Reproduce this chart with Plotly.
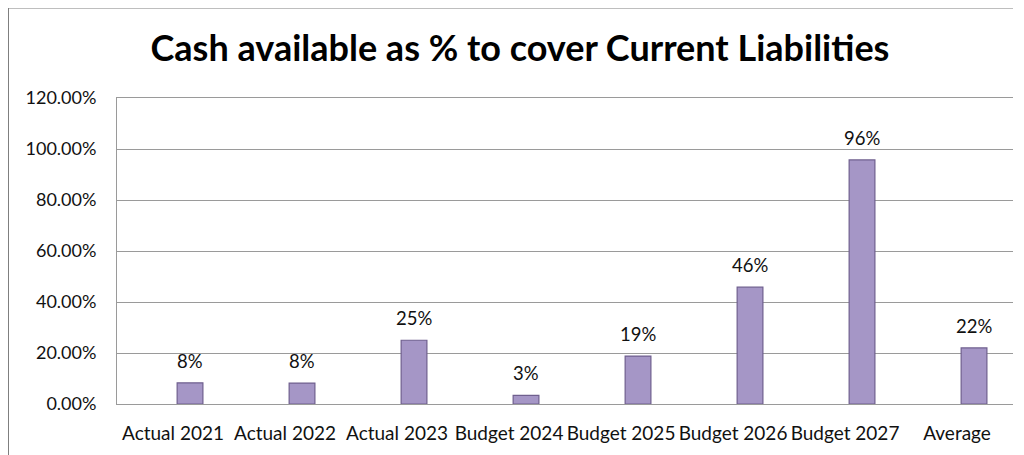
import plotly.graph_objects as go

categories = ["Actual 2021", "Actual 2022", "Actual 2023", "Budget 2024",
              "Budget 2025", "Budget 2026", "Budget 2027", "Average"]
values = [0.083, 0.082, 0.25, 0.034, 0.188, 0.458, 0.957, 0.22]
labels = ["8%", "8%", "25%", "3%", "19%", "46%", "96%", "22%"]
y_ticks = [0, 0.2, 0.4, 0.6, 0.8, 1.0, 1.2]

OFF = 8  # page body margin
W, H = 1024 - OFF, 455 - OFF
L, R, T, B = 117 - OFF, 1013 - OFF, 98 - OFF, 406 - OFF
FONT = "Lato"

fig = go.Figure()
fig.add_trace(go.Bar(
    x=categories, y=values,
    marker=dict(color="#a596c6", line=dict(color="#6f5f8e", width=1.2)),
    hoverinfo="skip",
))

for c, v, t in zip(categories, values, labels):
    fig.add_annotation(x=c, y=v, text=t, showarrow=False, yanchor="bottom",
                       yshift=9, font=dict(family=FONT, size=18.5, color="#111"))

def px_x(p):
    return (p - OFF - L) / (R - L)

def px_y(p):
    return (B - (p - OFF)) / (B - T)

shapes = [
    dict(type="line", xref="paper", yref="paper", x0=px_x(8), x1=px_x(1013),
         y0=px_y(7), y1=px_y(7), line=dict(color="#7f7f7f", width=2)),
    dict(type="line", xref="paper", yref="paper", x0=px_x(8), x1=px_x(8),
         y0=px_y(7), y1=px_y(470), line=dict(color="#7f7f7f", width=2)),
]

fig.update_layout(
    width=W, height=H,
    margin=dict(l=L, r=W - R, t=T, b=H - B),
    paper_bgcolor="white", plot_bgcolor="white",
    bargap=0.77,
    showlegend=False,
    shapes=shapes,
    title=dict(text="<b>Cash available as % to cover Current Liabilities</b>",
               x=(520 - OFF) / W, xanchor="center", xref="container",
               y=1 - (48 - OFF) / H, yanchor="middle",
               font=dict(family=FONT, size=36, color="#000")),
    xaxis=dict(type="category", range=[-0.652, 7.348], showgrid=False,
               showline=True, mirror=True, linecolor="#9a9a9a", linewidth=1,
               ticks="", ticklabelshift=-17, ticklabelstandoff=12,
               tickfont=dict(family=FONT, size=19, color="#111")),
    yaxis=dict(range=[0, 1.2], tickvals=y_ticks, tickformat=".2%",
               showgrid=True, gridcolor="#9a9a9a", gridwidth=1,
               showline=True, linecolor="#9a9a9a", linewidth=1,
               zeroline=False, ticks="", ticklabelstandoff=16,
               tickfont=dict(family=FONT, size=18, color="#111")),
)

fig.write_html("out.html")
